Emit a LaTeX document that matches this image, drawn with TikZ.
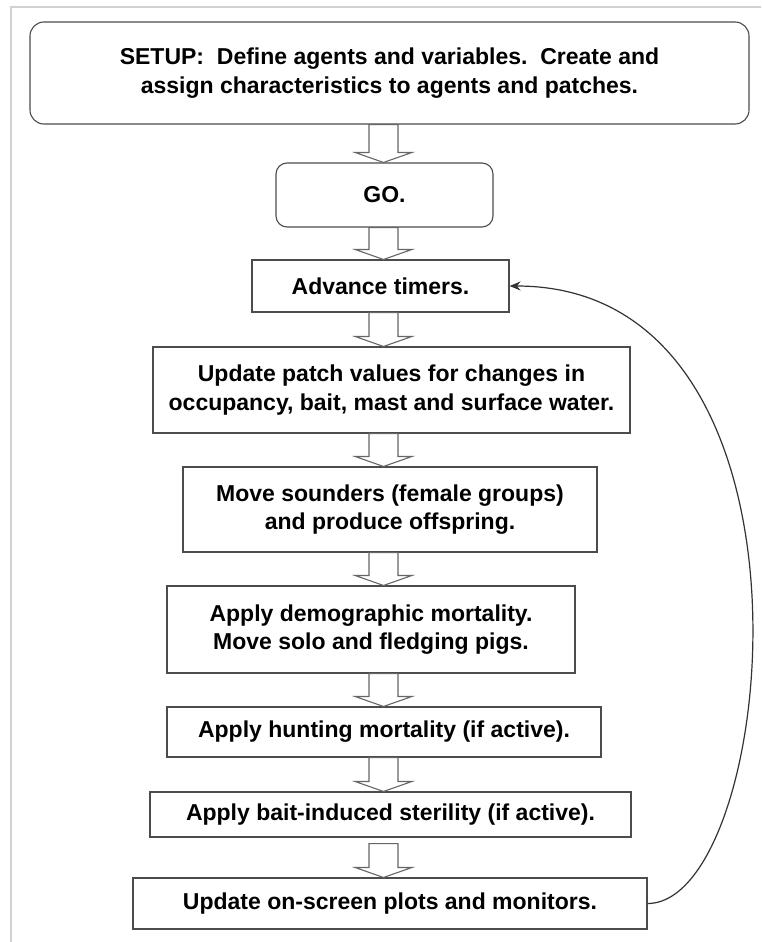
\documentclass[tikz,border=0pt]{standalone}
\usepackage{fontspec}
\setmainfont{Liberation Sans}
\usetikzlibrary{arrows.meta,calc}
\tikzset{
  box/.style={draw=black!70, line width=1.1pt, fill=white, inner sep=0pt, align=center,
    font=\fontsize{23}{28.5}\selectfont\bfseries},
  rbox/.style={box, rounded corners=14pt},
  harr/.style={draw=black!60, line width=1.1pt, fill=white, line join=miter},
  loop/.style={draw=black!80, line width=1.2pt, -{Stealth[length=11pt,width=9pt]}},
  frame/.style={draw=black!18, line width=1.2pt}
}
\newcommand{\mybox}[7]{% name, style, x1, x2, y1, y2, text
  \node[#2, minimum width={#4-#3}, minimum height={#6-#5}] (#1) at ({(#3+#4)/2},{(#5+#6)/2}) {#7};}
\newcommand{\harrow}[3][0]{% [gap], from, to
  \draw[harr] ($(#2.south -| ax)+(-14.5,#1)$) -- ($(#3.north -| ax)+(-14.5,-10)$)
    -- ($(#3.north -| ax)+(-28.5,-10)$) -- (#3.north -| ax)
    -- ($(#3.north -| ax)+(28.5,-10)$) -- ($(#3.north -| ax)+(14.5,-10)$)
    -- ($(#2.south -| ax)+(14.5,#1)$) -- cycle;}
\begin{document}
\begin{tikzpicture}[x=1pt,y=-1pt]
\useasboundingbox (0,0) rectangle (761,942);
\fill[white] (0,0) rectangle (761,942);
\draw[frame] (11,942) -- (11,7) -- (761,7);
\coordinate (ax) at (383.5,0);
\mybox{setup}{rbox}{30}{749}{22}{124}{SETUP:\ \ Define agents and variables.\ \ Create and\\assign characteristics to agents and patches.}
\mybox{go}{rbox, rounded corners=11pt}{276}{493}{163}{227}{GO.}
\mybox{adv}{box}{252}{509}{260}{312}{Advance timers.}
\mybox{upd}{box}{153}{630}{347}{433}{Update patch values for changes in\\occupancy, bait, mast and surface water.}
\mybox{move}{box}{183}{597}{467}{552}{Move sounders (female groups)\\and produce offspring.}
\mybox{demo}{box}{167}{575}{586}{673}{Apply demographic mortality.\\Move solo and fledging pigs.}
\mybox{hunt}{box}{167}{601}{707}{757}{Apply hunting mortality (if active).}
\mybox{bait}{box}{150}{631}{792}{837}{Apply bait-induced sterility (if active).}
\mybox{plot}{box}{133}{647}{878}{929}{Update on-screen plots and monitors.}
\harrow{setup}{go}
\harrow{go}{adv}
\harrow{adv}{upd}
\harrow{upd}{move}
\harrow{move}{demo}
\harrow{demo}{hunt}
\harrow{hunt}{bait}
\harrow[6]{bait}{plot}
\draw[loop] (plot.east) .. controls +(130,0) and +(330,0) .. (adv.east);
\end{tikzpicture}
\end{document}
